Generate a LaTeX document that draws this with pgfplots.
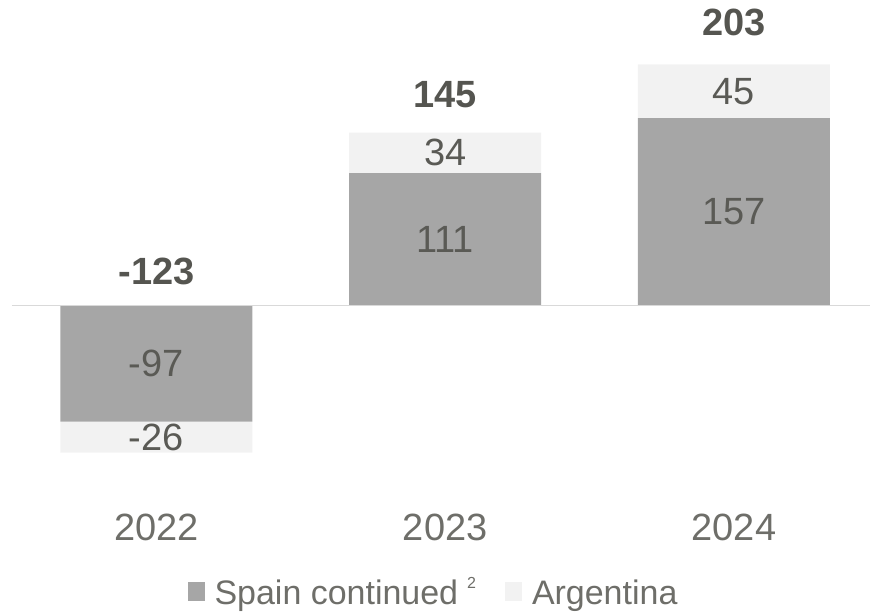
\documentclass[border=0pt]{standalone}
\usepackage{fontspec}
\setmainfont{Liberation Sans}
\usepackage{pgfplots}
\pgfplotsset{compat=1.18}
\definecolor{spain}{HTML}{A6A6A6}
\definecolor{arg}{HTML}{F2F2F2}
\definecolor{zeroc}{HTML}{D9D9D9}
\definecolor{lbl}{HTML}{5A5A55}
\definecolor{cat}{HTML}{6E6E69}
\definecolor{tot}{HTML}{555550}
\pgfplotsset{
  common/.style={
    at={(0,0)}, anchor=south west,
    width=871pt, height=616pt, scale only axis,
    xmin=-0.5415, xmax=2.472, ymin=-259.4, ymax=256,
    hide axis, clip=false,
  },
}
\begin{document}
\begin{tikzpicture}
\path (0,0) rectangle (871pt,616pt);
\begin{axis}[common, ybar stacked, bar width=192pt,
  legend style={at={(0.497,0.037)}, anchor=center, draw=none, fill=none,
    legend columns=2, inner sep=0pt, row sep=0pt, column sep=0pt,
    font=\fontsize{34}{36}\selectfont, text=cat,
    nodes={inner sep=0pt},
    /tikz/every odd column/.append style={column sep=10pt},
    /tikz/every even column/.append style={column sep=29pt}},
  legend cell align=left]
\addplot[fill=spain, draw=none,
  legend image code/.code={\fill[spain] (0pt,-8.8pt) rectangle (17pt,10.4pt);}]
  coordinates {(0,-97) (1,111) (2,157)};
\addplot[fill=arg, draw=none,
  legend image code/.code={\fill[arg] (0pt,-8.8pt) rectangle (17pt,10.4pt);}]
  coordinates {(0,-26) (1,34) (2,45)};
\legend{Spain continued\hspace{9pt}\smash{\fontsize{16}{16}\selectfont\raisebox{16pt}{2}},Argentina}
\end{axis}
\begin{axis}[common]
\addplot[draw=zeroc, line width=1.6pt] coordinates {(-0.5,0) (2.472,0)};
\addplot[draw=none, mark=none, nodes near coords, point meta=explicit symbolic,
  nodes near coords align={center},
  every node near coord/.append style={anchor=center, font=\fontsize{38}{40}\selectfont, text=lbl, inner sep=0pt}]
  coordinates {(0,-48.5)[-97] (1,55.5)[111] (2,78.5)[157] (0,-110)[-26] (1,128)[34] (2,179.5)[45]};
\addplot[draw=none, mark=none, nodes near coords, point meta=explicit symbolic,
  nodes near coords align={center},
  every node near coord/.append style={anchor=center, font=\fontsize{38}{40}\selectfont\bfseries, text=tot, inner sep=0pt}]
  coordinates {(0,28.7)[-123] (1,176.6)[145] (2,237)[203]};
\addplot[draw=none, mark=none, nodes near coords, point meta=explicit symbolic,
  nodes near coords align={center},
  every node near coord/.append style={anchor=center, font=\fontsize{38}{40}\selectfont, text=cat, inner sep=0pt}]
  coordinates {(0,-186)[2022] (1,-186)[2023] (2,-186)[2024]};
\end{axis}
\end{tikzpicture}
\end{document}
